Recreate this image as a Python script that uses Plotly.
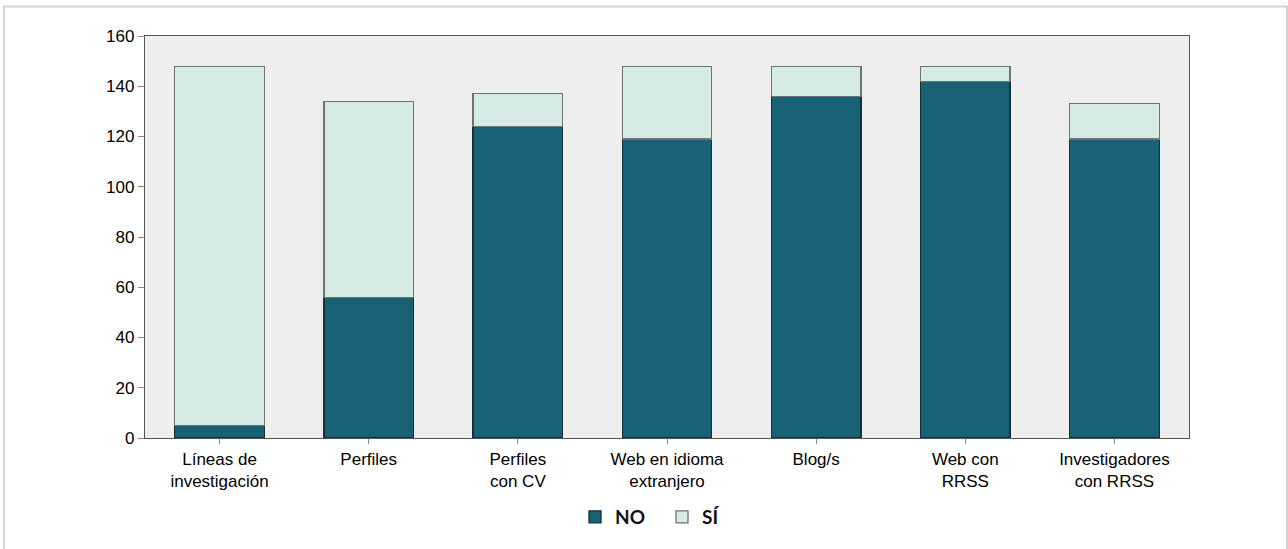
import plotly.graph_objects as go

# Categories and counts per category (stacked: NO at the bottom, SÍ on top)
categories = [
    "Líneas de<br>investigación",
    "Perfiles",
    "Perfiles<br>con CV",
    "Web en idioma<br>extranjero",
    "Blog/s",
    "Web con<br>RRSS",
    "Investigadores<br>con RRSS",
]
no_values = [5, 56, 124, 119, 136, 142, 119]
si_values = [143, 78, 13, 29, 12, 6, 14]
y_ticks = [0, 20, 40, 60, 80, 100, 120, 140, 160]

fig = go.Figure()
fig.add_trace(go.Bar(
    x=categories, y=no_values, name="NO",
    marker=dict(color="#196275", line=dict(color="#16303a", width=1.3)),
))
fig.add_trace(go.Bar(
    x=categories, y=si_values, name="SÍ",
    marker=dict(color="#d7ebe6", line=dict(color="#6e7474", width=1.3)),
))

W, H = 1288, 549
L, R, T, B = 145, 99, 36, 111
pw, ph = W - L - R, H - T - B

def px_x(x):
    return (x - L) / pw

def px_y(y):
    return (H - B - y) / ph

fig.update_layout(
    width=W, height=H,
    barmode="stack",
    bargap=0.4,
    margin=dict(l=L, r=R, t=T, b=B),
    paper_bgcolor="white",
    plot_bgcolor="#eeeeee",
    font=dict(family="Liberation Sans, Arial, sans-serif", size=17, color="#000000"),
    showlegend=True,
    legend=dict(
        orientation="h",
        x=px_x(662), xanchor="center",
        y=px_y(517), yanchor="middle",
        font=dict(family="Lato, Open Sans, sans-serif", size=19, color="#111111", weight="bold"),
        traceorder="normal",
        entrywidth=42, entrywidthmode="pixels",
        bgcolor="rgba(0,0,0,0)",
    ),
    shapes=[
        dict(type="rect", xref="paper", yref="paper",
             x0=px_x(4), x1=px_x(1287), y0=px_y(580), y1=px_y(6.5),
             line=dict(color="#d4d4d4", width=2), fillcolor="rgba(0,0,0,0)", layer="below"),
    ],
)

fig.update_xaxes(
    showline=True, linecolor="#555555", linewidth=1.3, mirror=True,
    ticks="outside", ticklen=5, tickcolor="#888888",
    showgrid=False,
    tickfont=dict(size=17),
)
fig.update_yaxes(
    range=[0, 160], tickvals=y_ticks,
    showline=True, linecolor="#555555", linewidth=1.3, mirror=True,
    ticks="outside", ticklen=6, tickcolor="#888888",
    showgrid=False, zeroline=False,
    tickfont=dict(size=17),
)

fig.write_html("out.html")
